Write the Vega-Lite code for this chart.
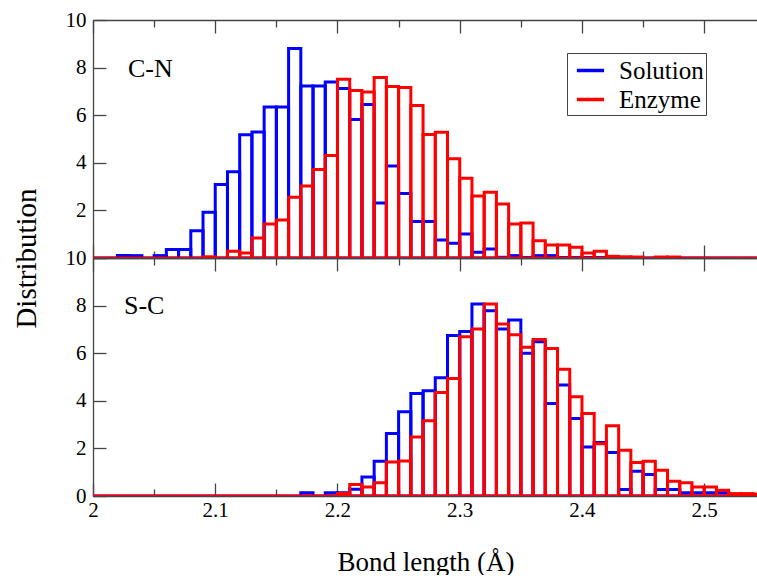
{
  "$schema": "https://vega.github.io/schema/vega-lite/v6.json",
  "padding": {"left": 12, "top": 9, "right": 0, "bottom": 0},
  "bounds": "flush",
  "spacing": 0,
  "background": "white",
  "config": {
    "font": "Liberation Serif",
    "view": {"stroke": null},
    "axis": {
      "labelFont": "Liberation Serif", "labelFontSize": 21, "labelColor": "#000",
      "titleFont": "Liberation Serif", "titleFontSize": 27, "titleFontWeight": "normal", "titleColor": "#000",
      "domainColor": "#444", "domainWidth": 1.3, "tickColor": "#444", "tickWidth": 1.3, "grid": false,
      "labelFlush": false, "labelOverlap": false
    }
  },
  "datasets": {
    "cn": [
      {"s":"Solution","lo":2.00,"hi":2.01,"v":0},{"s":"Solution","lo":2.01,"hi":2.02,"v":0},{"s":"Solution","lo":2.02,"hi":2.03,"v":0.1},{"s":"Solution","lo":2.03,"hi":2.04,"v":0.1},{"s":"Solution","lo":2.04,"hi":2.05,"v":0},
      {"s":"Solution","lo":2.05,"hi":2.06,"v":0.1},{"s":"Solution","lo":2.06,"hi":2.07,"v":0.36},{"s":"Solution","lo":2.07,"hi":2.08,"v":0.36},{"s":"Solution","lo":2.08,"hi":2.09,"v":1.15},{"s":"Solution","lo":2.09,"hi":2.10,"v":1.92},
      {"s":"Solution","lo":2.10,"hi":2.11,"v":3.09},{"s":"Solution","lo":2.11,"hi":2.12,"v":3.62},{"s":"Solution","lo":2.12,"hi":2.13,"v":5.18},{"s":"Solution","lo":2.13,"hi":2.14,"v":5.29},{"s":"Solution","lo":2.14,"hi":2.15,"v":6.34},
      {"s":"Solution","lo":2.15,"hi":2.16,"v":6.34},{"s":"Solution","lo":2.16,"hi":2.17,"v":8.8},{"s":"Solution","lo":2.17,"hi":2.18,"v":7.23},{"s":"Solution","lo":2.18,"hi":2.19,"v":7.23},{"s":"Solution","lo":2.19,"hi":2.20,"v":7.4},
      {"s":"Solution","lo":2.20,"hi":2.21,"v":7.12},{"s":"Solution","lo":2.21,"hi":2.22,"v":5.82},{"s":"Solution","lo":2.22,"hi":2.23,"v":6.45},{"s":"Solution","lo":2.23,"hi":2.24,"v":2.31},{"s":"Solution","lo":2.24,"hi":2.25,"v":3.87},
      {"s":"Solution","lo":2.25,"hi":2.26,"v":2.71},{"s":"Solution","lo":2.26,"hi":2.27,"v":1.53},{"s":"Solution","lo":2.27,"hi":2.28,"v":1.53},{"s":"Solution","lo":2.28,"hi":2.29,"v":0.76},{"s":"Solution","lo":2.29,"hi":2.30,"v":0.62},
      {"s":"Solution","lo":2.30,"hi":2.31,"v":1.01},{"s":"Solution","lo":2.31,"hi":2.32,"v":0.24},{"s":"Solution","lo":2.32,"hi":2.33,"v":0.38},{"s":"Solution","lo":2.33,"hi":2.34,"v":0.03},{"s":"Solution","lo":2.34,"hi":2.35,"v":0.1},
      {"s":"Solution","lo":2.35,"hi":2.36,"v":0.02},{"s":"Solution","lo":2.36,"hi":2.37,"v":0.1},{"s":"Solution","lo":2.37,"hi":2.38,"v":0.1},{"s":"Solution","lo":2.38,"hi":2.39,"v":0.02},{"s":"Solution","lo":2.39,"hi":2.40,"v":0.02},
      {"s":"Solution","lo":2.40,"hi":2.41,"v":0.02},{"s":"Solution","lo":2.41,"hi":2.42,"v":0.02},{"s":"Solution","lo":2.42,"hi":2.43,"v":0},{"s":"Solution","lo":2.43,"hi":2.44,"v":0},{"s":"Solution","lo":2.44,"hi":2.45,"v":0},
      {"s":"Solution","lo":2.45,"hi":2.46,"v":0},{"s":"Solution","lo":2.46,"hi":2.47,"v":0.02},{"s":"Solution","lo":2.47,"hi":2.48,"v":0.02},{"s":"Solution","lo":2.48,"hi":2.49,"v":0},{"s":"Solution","lo":2.49,"hi":2.50,"v":0},
      {"s":"Solution","lo":2.50,"hi":2.51,"v":0},{"s":"Solution","lo":2.51,"hi":2.52,"v":0},{"s":"Solution","lo":2.52,"hi":2.53,"v":0},{"s":"Solution","lo":2.53,"hi":2.54,"v":0},{"s":"Solution","lo":2.54,"hi":2.55,"v":0},
      {"s":"Enzyme","lo":2.00,"hi":2.01,"v":0},{"s":"Enzyme","lo":2.01,"hi":2.02,"v":0},{"s":"Enzyme","lo":2.02,"hi":2.03,"v":0},{"s":"Enzyme","lo":2.03,"hi":2.04,"v":0},{"s":"Enzyme","lo":2.04,"hi":2.05,"v":0},
      {"s":"Enzyme","lo":2.05,"hi":2.06,"v":0},{"s":"Enzyme","lo":2.06,"hi":2.07,"v":0},{"s":"Enzyme","lo":2.07,"hi":2.08,"v":0},{"s":"Enzyme","lo":2.08,"hi":2.09,"v":0},{"s":"Enzyme","lo":2.09,"hi":2.10,"v":0.05},
      {"s":"Enzyme","lo":2.10,"hi":2.11,"v":0},{"s":"Enzyme","lo":2.11,"hi":2.12,"v":0.28},{"s":"Enzyme","lo":2.12,"hi":2.13,"v":0.21},{"s":"Enzyme","lo":2.13,"hi":2.14,"v":0.84},{"s":"Enzyme","lo":2.14,"hi":2.15,"v":1.43},
      {"s":"Enzyme","lo":2.15,"hi":2.16,"v":1.6},{"s":"Enzyme","lo":2.16,"hi":2.17,"v":2.55},{"s":"Enzyme","lo":2.17,"hi":2.18,"v":3.02},{"s":"Enzyme","lo":2.18,"hi":2.19,"v":3.72},{"s":"Enzyme","lo":2.19,"hi":2.20,"v":4.31},
      {"s":"Enzyme","lo":2.20,"hi":2.21,"v":7.51},{"s":"Enzyme","lo":2.21,"hi":2.22,"v":7.04},{"s":"Enzyme","lo":2.22,"hi":2.23,"v":6.98},{"s":"Enzyme","lo":2.23,"hi":2.24,"v":7.58},{"s":"Enzyme","lo":2.24,"hi":2.25,"v":7.21},
      {"s":"Enzyme","lo":2.25,"hi":2.26,"v":7.16},{"s":"Enzyme","lo":2.26,"hi":2.27,"v":6.41},{"s":"Enzyme","lo":2.27,"hi":2.28,"v":5.19},{"s":"Enzyme","lo":2.28,"hi":2.29,"v":5.28},{"s":"Enzyme","lo":2.29,"hi":2.30,"v":4.17},
      {"s":"Enzyme","lo":2.30,"hi":2.31,"v":3.35},{"s":"Enzyme","lo":2.31,"hi":2.32,"v":2.6},{"s":"Enzyme","lo":2.32,"hi":2.33,"v":2.76},{"s":"Enzyme","lo":2.33,"hi":2.34,"v":2.27},{"s":"Enzyme","lo":2.34,"hi":2.35,"v":1.43},
      {"s":"Enzyme","lo":2.35,"hi":2.36,"v":1.47},{"s":"Enzyme","lo":2.36,"hi":2.37,"v":0.73},{"s":"Enzyme","lo":2.37,"hi":2.38,"v":0.55},{"s":"Enzyme","lo":2.38,"hi":2.39,"v":0.55},{"s":"Enzyme","lo":2.39,"hi":2.40,"v":0.45},
      {"s":"Enzyme","lo":2.40,"hi":2.41,"v":0.21},{"s":"Enzyme","lo":2.41,"hi":2.42,"v":0.28},{"s":"Enzyme","lo":2.42,"hi":2.43,"v":0.07},{"s":"Enzyme","lo":2.43,"hi":2.44,"v":0.05},{"s":"Enzyme","lo":2.44,"hi":2.45,"v":0.04},
      {"s":"Enzyme","lo":2.45,"hi":2.46,"v":0},{"s":"Enzyme","lo":2.46,"hi":2.47,"v":0.04},{"s":"Enzyme","lo":2.47,"hi":2.48,"v":0.04},{"s":"Enzyme","lo":2.48,"hi":2.49,"v":0},{"s":"Enzyme","lo":2.49,"hi":2.50,"v":0},
      {"s":"Enzyme","lo":2.50,"hi":2.51,"v":0},{"s":"Enzyme","lo":2.51,"hi":2.52,"v":0},{"s":"Enzyme","lo":2.52,"hi":2.53,"v":0},{"s":"Enzyme","lo":2.53,"hi":2.54,"v":0},{"s":"Enzyme","lo":2.54,"hi":2.55,"v":0}
    ],
    "sc": [
      {"s":"Solution","lo":2.00,"hi":2.01,"v":0},{"s":"Solution","lo":2.01,"hi":2.02,"v":0},{"s":"Solution","lo":2.02,"hi":2.03,"v":0},{"s":"Solution","lo":2.03,"hi":2.04,"v":0},{"s":"Solution","lo":2.04,"hi":2.05,"v":0},
      {"s":"Solution","lo":2.05,"hi":2.06,"v":0},{"s":"Solution","lo":2.06,"hi":2.07,"v":0},{"s":"Solution","lo":2.07,"hi":2.08,"v":0},{"s":"Solution","lo":2.08,"hi":2.09,"v":0},{"s":"Solution","lo":2.09,"hi":2.10,"v":0},
      {"s":"Solution","lo":2.10,"hi":2.11,"v":0},{"s":"Solution","lo":2.11,"hi":2.12,"v":0},{"s":"Solution","lo":2.12,"hi":2.13,"v":0},{"s":"Solution","lo":2.13,"hi":2.14,"v":0},{"s":"Solution","lo":2.14,"hi":2.15,"v":0},
      {"s":"Solution","lo":2.15,"hi":2.16,"v":0},{"s":"Solution","lo":2.16,"hi":2.17,"v":0},{"s":"Solution","lo":2.17,"hi":2.18,"v":0.14},{"s":"Solution","lo":2.18,"hi":2.19,"v":0},{"s":"Solution","lo":2.19,"hi":2.20,"v":0.14},
      {"s":"Solution","lo":2.20,"hi":2.21,"v":0.14},{"s":"Solution","lo":2.21,"hi":2.22,"v":0.28},{"s":"Solution","lo":2.22,"hi":2.23,"v":0.8},{"s":"Solution","lo":2.23,"hi":2.24,"v":1.46},{"s":"Solution","lo":2.24,"hi":2.25,"v":2.63},
      {"s":"Solution","lo":2.25,"hi":2.26,"v":3.54},{"s":"Solution","lo":2.26,"hi":2.27,"v":4.31},{"s":"Solution","lo":2.27,"hi":2.28,"v":4.42},{"s":"Solution","lo":2.28,"hi":2.29,"v":4.97},{"s":"Solution","lo":2.29,"hi":2.30,"v":6.74},
      {"s":"Solution","lo":2.30,"hi":2.31,"v":6.91},{"s":"Solution","lo":2.31,"hi":2.32,"v":8.07},{"s":"Solution","lo":2.32,"hi":2.33,"v":7.78},{"s":"Solution","lo":2.33,"hi":2.34,"v":7.02},{"s":"Solution","lo":2.34,"hi":2.35,"v":7.4},
      {"s":"Solution","lo":2.35,"hi":2.36,"v":6.0},{"s":"Solution","lo":2.36,"hi":2.37,"v":6.48},{"s":"Solution","lo":2.37,"hi":2.38,"v":3.89},{"s":"Solution","lo":2.38,"hi":2.39,"v":4.66},{"s":"Solution","lo":2.39,"hi":2.40,"v":3.26},
      {"s":"Solution","lo":2.40,"hi":2.41,"v":2.06},{"s":"Solution","lo":2.41,"hi":2.42,"v":2.25},{"s":"Solution","lo":2.42,"hi":2.43,"v":1.83},{"s":"Solution","lo":2.43,"hi":2.44,"v":0.27},{"s":"Solution","lo":2.44,"hi":2.45,"v":1.04},
      {"s":"Solution","lo":2.45,"hi":2.46,"v":0.9},{"s":"Solution","lo":2.46,"hi":2.47,"v":0.27},{"s":"Solution","lo":2.47,"hi":2.48,"v":0.27},{"s":"Solution","lo":2.48,"hi":2.49,"v":0.14},{"s":"Solution","lo":2.49,"hi":2.50,"v":0.14},
      {"s":"Solution","lo":2.50,"hi":2.51,"v":0.14},{"s":"Solution","lo":2.51,"hi":2.52,"v":0.14},{"s":"Solution","lo":2.52,"hi":2.53,"v":0.04},{"s":"Solution","lo":2.53,"hi":2.54,"v":0.04},{"s":"Solution","lo":2.54,"hi":2.55,"v":0},
      {"s":"Enzyme","lo":2.00,"hi":2.01,"v":0},{"s":"Enzyme","lo":2.01,"hi":2.02,"v":0},{"s":"Enzyme","lo":2.02,"hi":2.03,"v":0},{"s":"Enzyme","lo":2.03,"hi":2.04,"v":0},{"s":"Enzyme","lo":2.04,"hi":2.05,"v":0},
      {"s":"Enzyme","lo":2.05,"hi":2.06,"v":0},{"s":"Enzyme","lo":2.06,"hi":2.07,"v":0},{"s":"Enzyme","lo":2.07,"hi":2.08,"v":0},{"s":"Enzyme","lo":2.08,"hi":2.09,"v":0},{"s":"Enzyme","lo":2.09,"hi":2.10,"v":0},
      {"s":"Enzyme","lo":2.10,"hi":2.11,"v":0},{"s":"Enzyme","lo":2.11,"hi":2.12,"v":0},{"s":"Enzyme","lo":2.12,"hi":2.13,"v":0},{"s":"Enzyme","lo":2.13,"hi":2.14,"v":0},{"s":"Enzyme","lo":2.14,"hi":2.15,"v":0},
      {"s":"Enzyme","lo":2.15,"hi":2.16,"v":0},{"s":"Enzyme","lo":2.16,"hi":2.17,"v":0},{"s":"Enzyme","lo":2.17,"hi":2.18,"v":0},{"s":"Enzyme","lo":2.18,"hi":2.19,"v":0},{"s":"Enzyme","lo":2.19,"hi":2.20,"v":0},
      {"s":"Enzyme","lo":2.20,"hi":2.21,"v":0.1},{"s":"Enzyme","lo":2.21,"hi":2.22,"v":0.48},{"s":"Enzyme","lo":2.22,"hi":2.23,"v":0.38},{"s":"Enzyme","lo":2.23,"hi":2.24,"v":0.56},{"s":"Enzyme","lo":2.24,"hi":2.25,"v":1.43},
      {"s":"Enzyme","lo":2.25,"hi":2.26,"v":1.47},{"s":"Enzyme","lo":2.26,"hi":2.27,"v":2.48},{"s":"Enzyme","lo":2.27,"hi":2.28,"v":3.16},{"s":"Enzyme","lo":2.28,"hi":2.29,"v":4.35},{"s":"Enzyme","lo":2.29,"hi":2.30,"v":4.94},
      {"s":"Enzyme","lo":2.30,"hi":2.31,"v":6.69},{"s":"Enzyme","lo":2.31,"hi":2.32,"v":7.02},{"s":"Enzyme","lo":2.32,"hi":2.33,"v":8.07},{"s":"Enzyme","lo":2.33,"hi":2.34,"v":7.23},{"s":"Enzyme","lo":2.34,"hi":2.35,"v":6.77},
      {"s":"Enzyme","lo":2.35,"hi":2.36,"v":6.25},{"s":"Enzyme","lo":2.36,"hi":2.37,"v":6.58},{"s":"Enzyme","lo":2.37,"hi":2.38,"v":6.2},{"s":"Enzyme","lo":2.38,"hi":2.39,"v":5.33},{"s":"Enzyme","lo":2.39,"hi":2.40,"v":4.17},
      {"s":"Enzyme","lo":2.40,"hi":2.41,"v":3.47},{"s":"Enzyme","lo":2.41,"hi":2.42,"v":2.2},{"s":"Enzyme","lo":2.42,"hi":2.43,"v":2.95},{"s":"Enzyme","lo":2.43,"hi":2.44,"v":1.92},{"s":"Enzyme","lo":2.44,"hi":2.45,"v":1.41},
      {"s":"Enzyme","lo":2.45,"hi":2.46,"v":1.46},{"s":"Enzyme","lo":2.46,"hi":2.47,"v":1.08},{"s":"Enzyme","lo":2.47,"hi":2.48,"v":0.62},{"s":"Enzyme","lo":2.48,"hi":2.49,"v":0.56},{"s":"Enzyme","lo":2.49,"hi":2.50,"v":0.38},
      {"s":"Enzyme","lo":2.50,"hi":2.51,"v":0.38},{"s":"Enzyme","lo":2.51,"hi":2.52,"v":0.24},{"s":"Enzyme","lo":2.52,"hi":2.53,"v":0.1},{"s":"Enzyme","lo":2.53,"hi":2.54,"v":0.1},{"s":"Enzyme","lo":2.54,"hi":2.55,"v":0.08}
    ],
    "cnlab": [{"lx": 2.0286, "ly": 7.6, "t": "C-N"}],
    "sclab": [{"lx": 2.0253, "ly": 7.65, "t": "S-C"}]
  },
  "resolve": {"scale": {"stroke": "independent"}},
  "vconcat": [
    {
      "width": 665, "height": 238,
      "resolve": {"axis": {"x": "independent"}},
      "layer": [
        {
          "data": {"name": "cn"},
          "mark": {"type": "bar", "fill": "transparent", "strokeWidth": 3, "clip": true},
          "encoding": {
            "x": {"field": "lo", "type": "quantitative", "scale": {"domain": [2, 2.544], "nice": false, "zero": false},
              "axis": {"orient": "bottom", "title": null, "labels": false, "values": [2, 2.05, 2.1, 2.15, 2.2, 2.25, 2.3, 2.35, 2.4, 2.45, 2.5],
                "tickSize": {"condition": {"test": "abs(datum.value*10 - round(datum.value*10)) < 0.01", "value": -13}, "value": -7}}},
            "x2": {"field": "hi"},
            "y": {"field": "v", "type": "quantitative", "stack": null, "scale": {"domain": [0, 10], "nice": false},
              "axis": {"title": null, "values": [0, 2, 4, 6, 8, 10], "tickSize": -13, "labelPadding": 20,
                "labelExpr": "datum.value == 0 ? '' : datum.label",
                "labelFont": "Liberation Serif", "labelFontSize": 21, "labelColor": "#000"}},
            "y2": {"datum": 0},
            "stroke": {"field": "s", "type": "nominal", "scale": {"domain": ["Solution", "Enzyme"], "range": ["#0000ff", "#ff0000"]},
              "legend": {"title": null, "orient": "none", "legendX": 474, "legendY": 33, "symbolType": "stroke", "symbolSize": 740,
                "symbolStrokeWidth": 3.5, "labelFont": "Liberation Serif", "labelFontSize": 25, "labelColor": "#000", "labelOffset": 13,
                "rowPadding": 0, "padding": 2, "symbolOffset": 6, "strokeColor": "#444", "fillColor": "white"}}
          }
        },
        {
          "data": {"name": "cnlab"},
          "mark": {"type": "text", "align": "left", "baseline": "alphabetic", "fontSize": 26, "font": "Liberation Serif", "color": "#000"},
          "encoding": {
            "x": {"field": "lx", "type": "quantitative", "scale": {"domain": [2, 2.544], "nice": false, "zero": false},
              "axis": {"orient": "top", "title": null, "labels": false, "values": [2, 2.05, 2.1, 2.15, 2.2, 2.25, 2.3, 2.35, 2.4, 2.45, 2.5],
                "tickSize": {"condition": {"test": "abs(datum.value*10 - round(datum.value*10)) < 0.01", "value": -13}, "value": -7}}},
            "y": {"field": "ly", "type": "quantitative", "scale": {"domain": [0, 10], "nice": false},
              "axis": {"title": null, "values": [0, 2, 4, 6, 8, 10], "tickSize": -13, "labelPadding": 20,
                "labelExpr": "datum.value == 0 ? '' : datum.label",
                "labelFont": "Liberation Serif", "labelFontSize": 21, "labelColor": "#000"}},
            "text": {"field": "t"}
          }
        }
      ]
    },
    {
      "width": 665, "height": 238,
      "resolve": {"axis": {"x": "independent"}},
      "layer": [
        {
          "data": {"name": "sc"},
          "mark": {"type": "bar", "fill": "transparent", "strokeWidth": 3, "clip": true},
          "encoding": {
            "x": {"field": "lo", "type": "quantitative", "scale": {"domain": [2, 2.544], "nice": false, "zero": false},
              "axis": {"orient": "bottom", "title": "Bond length (Å)", "titleY": 74, "titleBaseline": "alphabetic",
                "values": [2, 2.05, 2.1, 2.15, 2.2, 2.25, 2.3, 2.35, 2.4, 2.45, 2.5],
                "labelExpr": "abs(datum.value*10 - round(datum.value*10)) < 0.01 ? format(datum.value, '~g') : ''",
                "labelPadding": 16, "labelFont": "Liberation Serif", "labelFontSize": 21, "labelColor": "#000",
                "tickSize": {"condition": {"test": "abs(datum.value*10 - round(datum.value*10)) < 0.01", "value": -13}, "value": -7}}},
            "x2": {"field": "hi"},
            "y": {"field": "v", "type": "quantitative", "stack": null, "scale": {"domain": [0, 10], "nice": false},
              "axis": {"title": "Distribution", "titleY": 0, "titleX": -58, "titleAngle": -90, "titleAlign": "center", "titleBaseline": "alphabetic",
                "titleFontSize": 29,
                "values": [0, 2, 4, 6, 8, 10], "tickSize": -13, "labelPadding": 20,
                "labelFont": "Liberation Serif", "labelFontSize": 21, "labelColor": "#000"}},
            "y2": {"datum": 0},
            "stroke": {"field": "s", "type": "nominal", "scale": {"domain": ["Solution", "Enzyme"], "range": ["#0000ff", "#ff0000"]}, "legend": null}
          }
        },
        {
          "data": {"name": "sclab"},
          "mark": {"type": "text", "align": "left", "baseline": "alphabetic", "fontSize": 26, "font": "Liberation Serif", "color": "#000"},
          "encoding": {
            "x": {"field": "lx", "type": "quantitative", "scale": {"domain": [2, 2.544], "nice": false, "zero": false},
              "axis": {"orient": "top", "title": null, "labels": false, "values": [2, 2.05, 2.1, 2.15, 2.2, 2.25, 2.3, 2.35, 2.4, 2.45, 2.5],
                "tickSize": {"condition": {"test": "abs(datum.value*10 - round(datum.value*10)) < 0.01", "value": -13}, "value": -7}}},
            "y": {"field": "ly", "type": "quantitative", "scale": {"domain": [0, 10], "nice": false},
              "axis": {"title": "Distribution", "titleY": 0, "titleX": -58, "titleAngle": -90, "titleAlign": "center", "titleBaseline": "alphabetic",
                "titleFontSize": 29,
                "values": [0, 2, 4, 6, 8, 10], "tickSize": -13, "labelPadding": 20,
                "labelFont": "Liberation Serif", "labelFontSize": 21, "labelColor": "#000"}},
            "text": {"field": "t"}
          }
        }
      ]
    }
  ]
}
